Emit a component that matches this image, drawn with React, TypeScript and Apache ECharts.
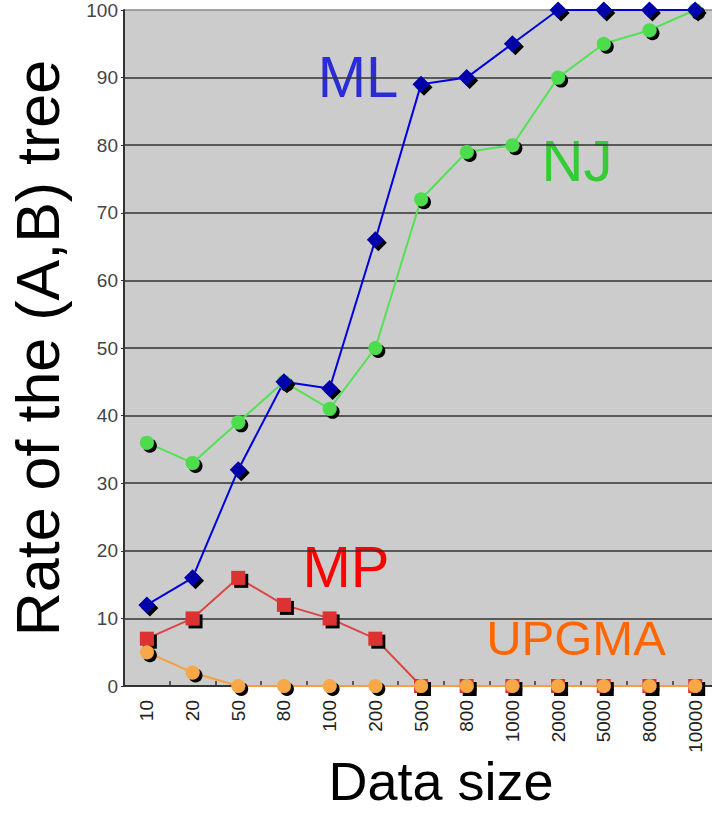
import React, { useEffect, useRef } from "react";
import * as echarts from "echarts";

const categories = ["10", "20", "50", "80", "100", "200", "500", "800", "1000", "2000", "5000", "8000", "10000"];
const mlValues = [12, 16, 32, 45, 44, 66, 89, 90, 95, 100, 100, 100, 100];
const njValues = [36, 33, 39, 45, 41, 50, 72, 79, 80, 90, 95, 97, 100];
const mpValues = [7, 10, 16, 12, 10, 7, 0, 0, 0, 0, 0, 0, 0];
const upgmaValues = [5, 2, 0, 0, 0, 0, 0, 0, 0, 0, 0, 0, 0];
const yTicks = { min: 0, max: 100, interval: 10 };

const FONT = "'Liberation Sans', Arial, sans-serif";

const shadow = { shadowColor: "#000", shadowBlur: 1, shadowOffsetX: 3, shadowOffsetY: 3 };

export default function App() {
  const ref = useRef<HTMLDivElement>(null);
  useEffect(() => {
    if (!ref.current) return;
    document.body.style.margin = "0";
    document.body.style.overflow = "hidden";
    const chart = echarts.init(ref.current, null, { renderer: "svg" });
    const splitColors = ["#333", "#333", "#333", "#333", "#333", "#333", "#333", "#333", "#333", "#333", "#8a8a8a"];
    chart.setOption({
      animation: false,
      textStyle: { fontFamily: FONT },
      grid: {
        left: 124, top: 10, width: 594, height: 676,
        show: true, backgroundColor: "#cccccc", borderWidth: 0,
        containLabel: false, outerBoundsMode: "none",
      },
      xAxis: {
        type: "category",
        data: categories,
        boundaryGap: true,
        axisLine: { lineStyle: { color: "#333", width: 2 } },
        axisTick: { show: true, inside: true, length: 5, lineStyle: { color: "#333", width: 1.5 } },
        axisLabel: { rotate: 90, fontSize: 19, color: "#222", margin: 14, fontFamily: FONT },
        name: "Data size",
        nameLocation: "middle",
        nameGap: 68,
        nameMoveOverlap: false,
        nameTextStyle: { fontSize: 54, color: "#000", fontFamily: FONT, padding: [0, 0, 0, 40] },
      },
      yAxis: {
        type: "value",
        min: yTicks.min,
        max: yTicks.max,
        interval: yTicks.interval,
        axisLine: { show: true, lineStyle: { color: "#333", width: 2 } },
        axisTick: { show: true, length: 3, lineStyle: { color: "#333" } },
        axisLabel: { fontSize: 19, color: "#444", margin: 6, fontFamily: FONT },
        splitLine: { show: true, lineStyle: { color: splitColors, width: 1.5 } },
        name: "Rate of the (A,B) tree",
        nameLocation: "middle",
        nameRotate: 90,
        nameGap: 56,
        nameMoveOverlap: false,
        nameTextStyle: { fontSize: 61, color: "#000", fontFamily: FONT },
      },
      series: [
        {
          name: "MP",
          type: "line",
          data: mpValues,
          symbol: "rect",
          symbolSize: 14,
          lineStyle: { color: "#dd4444", width: 2 },
          itemStyle: { color: "#dd3333", ...shadow },
          emphasis: { disabled: true },
        },
        {
          name: "UPGMA",
          type: "line",
          data: upgmaValues,
          symbol: "circle",
          symbolSize: 14,
          lineStyle: { color: "#f5a040", width: 2 },
          itemStyle: { color: "#f9a847", ...shadow },
          emphasis: { disabled: true },
        },
        {
          name: "NJ",
          type: "line",
          data: njValues,
          symbol: "circle",
          symbolSize: 14,
          lineStyle: { color: "#55e055", width: 2 },
          itemStyle: { color: "#4ddc4d", ...shadow },
          emphasis: { disabled: true },
        },
        {
          name: "ML",
          type: "line",
          data: mlValues,
          symbol: "diamond",
          symbolSize: 17,
          lineStyle: { color: "#0000dd", width: 2 },
          itemStyle: { color: "#0000aa", ...shadow },
          emphasis: { disabled: true },
        },
      ],
      graphic: [
        { type: "text", x: 358, y: 76, style: { text: "ML", fill: "#2b2bd8", fontSize: 58, fontFamily: FONT, align: "center", verticalAlign: "middle" } },
        { type: "text", x: 577, y: 160, style: { text: "NJ", fill: "#33cc33", fontSize: 58, fontFamily: FONT, align: "center", verticalAlign: "middle" } },
        { type: "text", x: 346, y: 566, style: { text: "MP", fill: "#ff0000", fontSize: 58, fontFamily: FONT, align: "center", verticalAlign: "middle" } },
        { type: "text", x: 576, y: 638, style: { text: "UPGMA", fill: "#ff6600", fontSize: 49, fontFamily: FONT, align: "center", verticalAlign: "middle" } },
      ],
    });
    return () => chart.dispose();
  }, []);
  return <div ref={ref} style={{ position: "absolute", left: 0, top: 0, width: 712, height: 814, overflow: "hidden", background: "#fff" }} />;
}
